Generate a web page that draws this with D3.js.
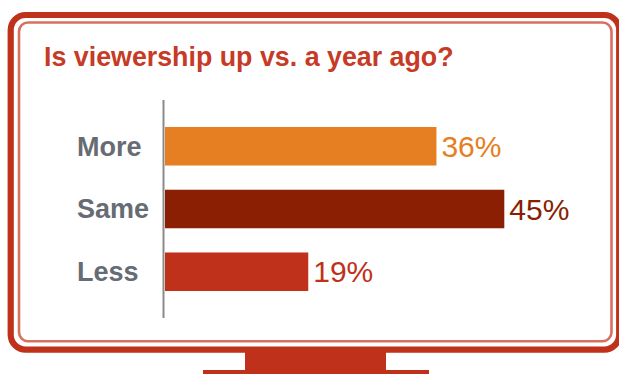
<!DOCTYPE html>
<html lang="en">
<head>
  <meta charset="UTF-8">
  <title>Is viewership up vs. a year ago?</title>
  <script src="https://d3js.org/d3.v7.min.js"></script>
  <style>
    body { margin: 0; background: #fff; }
    text { font-family: "Liberation Sans", Arial, Helvetica, sans-serif; }
  </style>
</head>
<body>
  <div class="canvas"></div>
  <script>
    const categories = ['More', 'Same', 'Less'];
    const values = [36, 45, 19];
    const valueLabels = ['36%', '45%', '19%'];
    const title = 'Is viewership up vs. a year ago?';

    const width = 619;
    const height = 374;
    const red = '#bf311a';
    const barColors = ['#e67e22', '#8a1f04', '#bf311a'];

    const svg = d3.select('.canvas')
      .append('svg')
      .attr('width', width)
      .attr('height', height)

    // monitor stand
    svg.append('rect')
      .attr('x', 245).attr('y', 350).attr('width', 141).attr('height', 22)
      .attr('fill', red)
    svg.append('rect')
      .attr('x', 203).attr('y', 370).attr('width', 226).attr('height', 10)
      .attr('fill', red)

    // frame: thick outer band + thin inner line
    svg.append('rect')
      .attr('x', 10.7).attr('y', 15).attr('width', 608.5).attr('height', 334.7)
      .attr('rx', 15)
      .attr('fill', '#fff')
      .attr('stroke', red)
      .attr('stroke-width', 6.2)
    svg.append('rect')
      .attr('x', 19).attr('y', 22.5).attr('width', 592.5).attr('height', 318.8)
      .attr('rx', 9)
      .attr('fill', 'none')
      .attr('stroke', '#d8705f')
      .attr('stroke-width', 2.6)

    svg.append('text')
      .attr('x', 44)
      .attr('y', 66)
      .attr('fill', '#c73a26')
      .attr('font-size', 26.8)
      .attr('font-weight', 'bold')
      .text(title)

    const x = d3.scaleLinear()
      .domain([0, 50])
      .range([165, 542])

    const y = d3.scaleBand()
      .domain(categories)
      .range([100, 318])
      .paddingInner(0.386)
      .paddingOuter(0.43)

    const color = d3.scaleOrdinal()
      .domain(categories)
      .range(barColors)

    const rows = categories.map((c, i) => ({ cat: c, value: values[i], label: valueLabels[i] }))

    svg.selectAll('rect.bar')
      .data(rows)
      .enter()
      .append('rect')
      .attr('class', 'bar')
      .attr('x', x(0))
      .attr('y', d => y(d.cat))
      .attr('width', d => x(d.value) - x(0))
      .attr('height', y.bandwidth())
      .attr('fill', d => color(d.cat))

    svg.selectAll('text.value')
      .data(rows)
      .enter()
      .append('text')
      .attr('class', 'value')
      .attr('x', d => x(d.value) + 5)
      .attr('y', d => y(d.cat) + y.bandwidth() / 2)
      .attr('dy', '0.35em')
      .attr('font-size', 30)
      .attr('fill', d => color(d.cat))
      .text(d => d.label)

    // category labels
    svg.selectAll('text.cat')
      .data(rows)
      .enter()
      .append('text')
      .attr('class', 'cat')
      .attr('x', 77)
      .attr('y', d => y(d.cat) + y.bandwidth() / 2)
      .attr('dy', '0.35em')
      .attr('font-size', 27)
      .attr('font-weight', 'bold')
      .attr('fill', '#676b73')
      .text(d => d.cat)

    // axis line
    svg.append('line')
      .attr('x1', 163.5).attr('x2', 163.5)
      .attr('y1', 100).attr('y2', 318)
      .attr('stroke', '#8a8a8a')
      .attr('stroke-width', 2)
  </script>
</body>
</html>
